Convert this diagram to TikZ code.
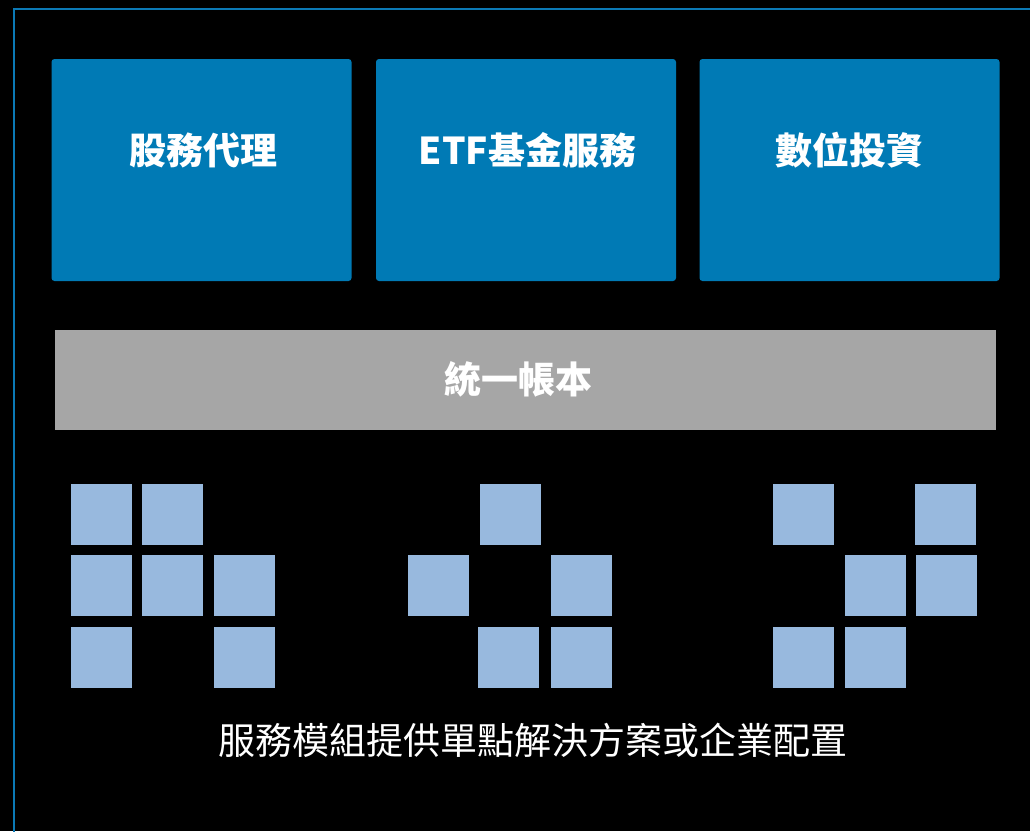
\documentclass[tikz,border=0pt]{standalone}
\usepackage{fontspec}
\newfontfamily\cjk{Noto Sans CJK TC}
\definecolor{frameblue}{RGB}{11,121,181}
\definecolor{boxblue}{RGB}{0,122,181}
\definecolor{bargray}{RGB}{166,166,166}
\definecolor{sqblue}{RGB}{152,185,222}
\tikzset{
  topbox/.style={fill=boxblue, rounded corners=3pt, minimum width=300pt, minimum height=222pt, inner sep=0pt},
  toplabel/.style={text=white, font=\cjk\bfseries\fontsize{37}{42}\selectfont, inner sep=0pt},
  barbox/.style={fill=bargray, minimum width=941pt, minimum height=100pt, inner sep=0pt},
  barlabel/.style={text=white, font=\cjk\bfseries\fontsize{37}{42}\selectfont, inner sep=0pt},
  sq/.style={fill=sqblue, minimum size=61pt, inner sep=0pt, anchor=north west},
  foot/.style={text=white, font=\cjk\fontsize{37}{42}\selectfont, inner sep=0pt}
}
\begin{document}
\begin{tikzpicture}[x=1pt,y=-1pt]
\useasboundingbox (0,0) rectangle (1030,831);
\fill[black] (0,0) rectangle (1030,831);
\draw[frameblue, line width=2pt] (14,840) -- (14,9) -- (1040,9);
% top boxes
\node[topbox] (b1) at (201.5,170) {};
\node[topbox] (b2) at (526,170) {};
\node[topbox] (b3) at (849.5,170) {};
\node[toplabel] (l1) at (203.5,150) {股務代理};
\node[toplabel] (l2) at (527.5,150) {ETF基金服務};
\node[toplabel] (l3) at (849.5,150) {數位投資};
% bar
\node[barbox] (bar) at (525.5,379.5) {};
\node[barlabel] (barl) at (518.5,379.5) {統一帳本};
% group 1
\node[sq] (g1a) at (71,484) {};
\node[sq] (g1b) at (142,484) {};
\node[sq] (g1c) at (71,555) {};
\node[sq] (g1d) at (142,555) {};
\node[sq] (g1e) at (214,555) {};
\node[sq] (g1f) at (71,627) {};
\node[sq] (g1g) at (214,627) {};
% group 2
\node[sq] (g2a) at (480,484) {};
\node[sq] (g2b) at (408,555) {};
\node[sq] (g2c) at (551,555) {};
\node[sq] (g2d) at (478,627) {};
\node[sq] (g2e) at (551,627) {};
% group 3
\node[sq] (g3a) at (773,484) {};
\node[sq] (g3b) at (915,484) {};
\node[sq] (g3c) at (845,555) {};
\node[sq] (g3d) at (916,555) {};
\node[sq] (g3e) at (773,627) {};
\node[sq] (g3f) at (845,627) {};
% footer
\node[foot] (ft) at (533,740) {服務模組提供單點解決方案或企業配置};
\end{tikzpicture}
\end{document}
